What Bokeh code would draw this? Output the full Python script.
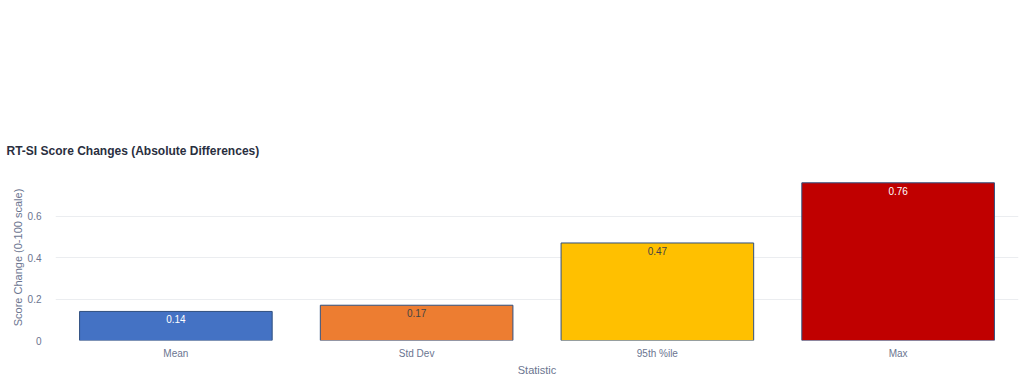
from bokeh.plotting import figure
from bokeh.models import ColumnDataSource, FixedTicker, FactorRange, Range1d
from bokeh.embed import file_html
from bokeh.resources import INLINE
from bokeh.core.properties import value

categories = ["Mean", "Std Dev", "95th %ile", "Max"]
values = [0.14, 0.17, 0.47, 0.76]
bar_colors = ["#4472C4", "#ED7D31", "#FFC000", "#C00000"]
label_colors = ["#ffffff", "#444444", "#444444", "#ffffff"]
y_ticks = [0, 0.2, 0.4, 0.6]
y_tick_labels = ["0", "0.2", "0.4", "0.6"]

src = ColumnDataSource(dict(
    cat=categories, val=values, color=bar_colors,
    lab=[f"{v:.2f}" for v in values], lcol=label_colors,
))

FONT = "Liberation Sans"

p = figure(width=1024, height=381, x_range=FactorRange(factors=categories),
           y_range=Range1d(0, 0.8), output_backend="svg", toolbar_location=None,
           title="RT-SI Score Changes (Absolute Differences)",
           min_border_left=55, min_border_right=6, min_border_top=174,
           min_border_bottom=41)

p.vbar(x="cat", top="val", width=0.8, source=src, fill_color="color",
       line_color="#2f4f7f", line_width=1)
p.text(x="cat", y="val", text="lab", source=src, text_color="lcol",
       text_align="center", text_baseline="top", y_offset=4,
       text_font=value(FONT), text_font_size="10px")

p.title.text_font = FONT
p.title.text_font_size = "12px"
p.title.text_font_style = "bold"
p.title.text_color = "#2a2f3f"
p.title.align = "left"
p.title.offset = -49
p.title.standoff = 33

p.outline_line_color = None
p.background_fill_color = "white"
p.border_fill_color = "white"

p.xgrid.grid_line_color = None
p.ygrid.grid_line_color = "#ebedf0"
p.ygrid.ticker = FixedTicker(ticks=y_ticks)

p.yaxis.ticker = FixedTicker(ticks=y_ticks)
p.yaxis.major_label_overrides = {t: l for t, l in zip(y_ticks, y_tick_labels)}
for ax in (p.xaxis[0], p.yaxis[0]):
    ax.axis_line_color = None
    ax.major_tick_line_color = None
    ax.minor_tick_line_color = None
    ax.major_label_text_font = FONT
    ax.major_label_text_font_size = "10px"
    ax.major_label_text_color = "#6b7590"
    ax.axis_label_text_font = FONT
    ax.axis_label_text_font_size = "11px"
    ax.axis_label_text_font_style = "normal"
    ax.axis_label_text_color = "#6b7590"

p.xaxis.axis_label = "Statistic"
p.xaxis.major_label_standoff = 1
p.xaxis.axis_label_standoff = 2
p.yaxis.axis_label = "Score Change (0-100 scale)"
p.yaxis.major_label_standoff = 8
p.yaxis.axis_label_standoff = 1

open("out.html", "w").write(file_html(p, INLINE))
